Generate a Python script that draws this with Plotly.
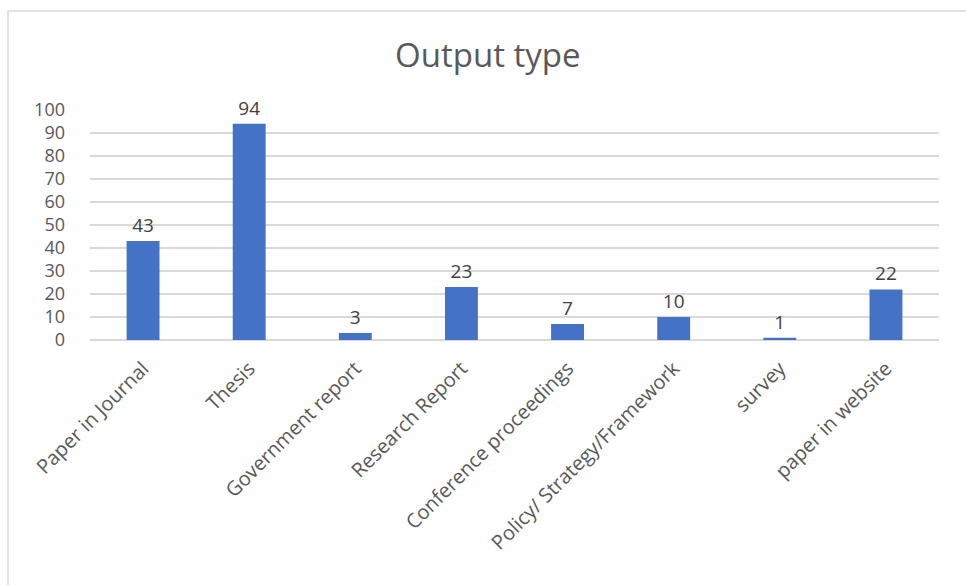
import plotly.graph_objects as go

categories = ["Paper in Journal", "Thesis", "Government report", "Research Report",
              "Conference proceedings", "Policy/ Strategy/Framework", "survey", "paper in website"]
values = [43, 94, 3, 23, 7, 10, 1, 22]
y_ticks = [0, 10, 20, 30, 40, 50, 60, 70, 80, 90, 100]

FONT = "'Open Sans', sans-serif"
L, R, T, B = 90, 27, 110, 245
W, H = 966, 585
pw, ph = W - L - R, H - T - B

fig = go.Figure(go.Bar(
    x=categories, y=values,
    marker=dict(color="#4472C4", line=dict(width=0)),
    text=[str(v) for v in values], textposition="outside",
    textfont=dict(family=FONT, size=19, color="#404040"),
    cliponaxis=False, width=0.31,
))

fig.update_layout(
    width=W, height=H,
    margin=dict(l=L, r=R, t=T, b=B),
    paper_bgcolor="white", plot_bgcolor="white",
    title=dict(text="Output type", x=0.505, xanchor="center", y=1 - 55 / H, yanchor="middle",
               font=dict(family=FONT, size=33, color="#595959")),
    showlegend=False,
    xaxis=dict(tickangle=-45, tickfont=dict(family=FONT, size=20, color="#595959"),
               showgrid=False, showline=False, ticks="", ticklabelstandoff=12),
    yaxis=dict(range=[0, 100], tickvals=y_ticks, showgrid=True, gridcolor="#D9D9D9", gridwidth=1.5,
               zeroline=True, zerolinecolor="#D9D9D9", zerolinewidth=1.5,
               tickfont=dict(family=FONT, size=18, color="#595959"), ticks="", ticklabelstandoff=24),
    shapes=[dict(type="rect", xref="paper", yref="paper",
                 x0=(8 - L) / pw, x1=(W + 20 - L) / pw,
                 y0=-(H + 20 - (H - B)) / ph, y1=(H - B - 11) / ph,
                 line=dict(color="#D9D9D9", width=1.5), fillcolor="rgba(0,0,0,0)", layer="below")],
)

fig.write_html("out.html")
